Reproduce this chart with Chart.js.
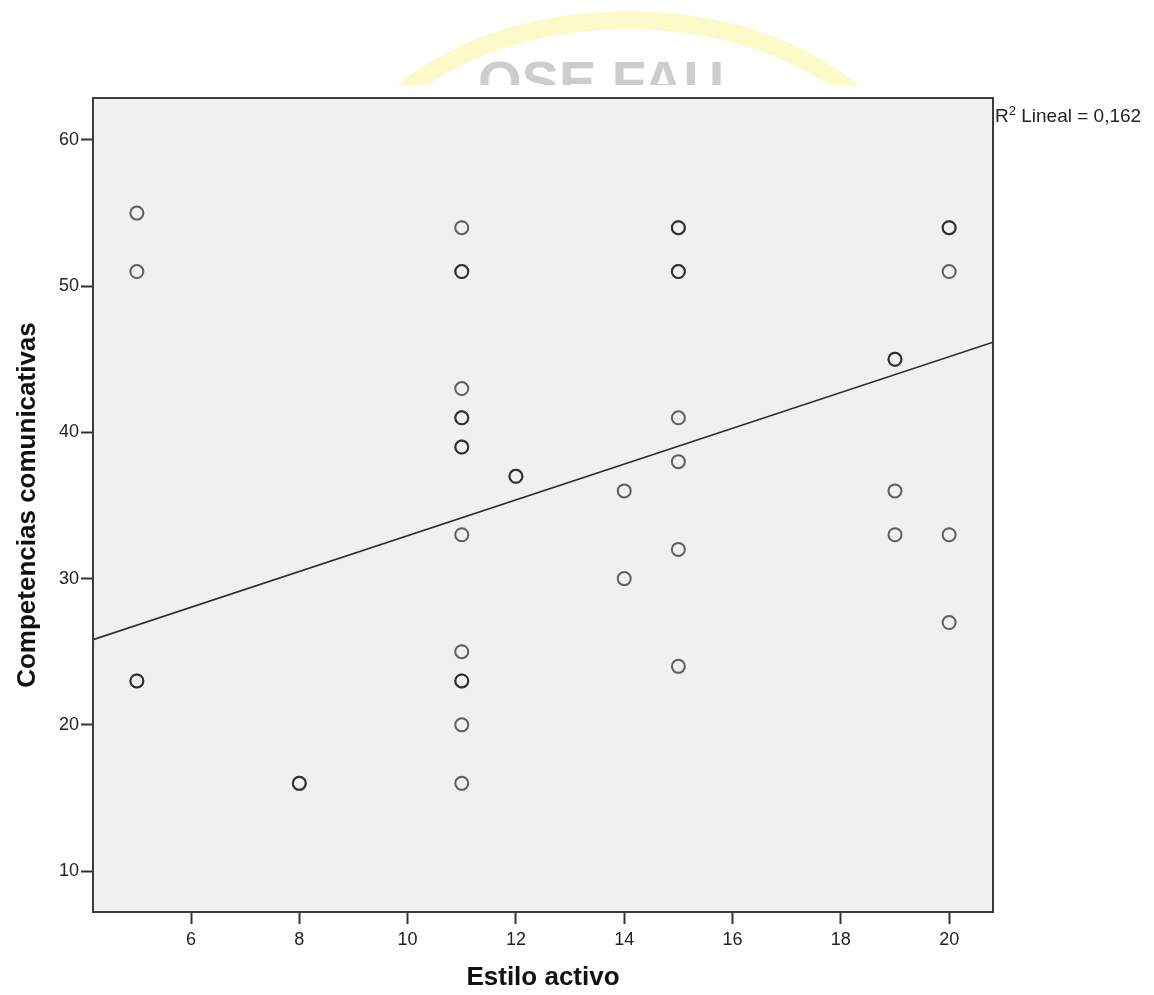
<!DOCTYPE html>
<html>
<head>
<meta charset="utf-8">
<script src="https://cdn.jsdelivr.net/npm/chart.js@4.4.0/dist/chart.umd.min.js"></script>
<style>
  html, body { margin: 0; padding: 0; background: #fff; }
  canvas { display: block; }
</style>
</head>
<body>
<canvas id="chart" width="1154" height="995"></canvas>
<script>
// Estilo activo (x) vs Competencias comunicativas (y); repeated pairs are listed once per case
const estiloActivo = [
  5, 5, 5, 5,
  8, 8,
  11, 11, 11, 11, 11, 11, 11, 11, 11, 11, 11, 11, 11, 11,
  12, 12,
  14, 14,
  15, 15, 15, 15, 15, 15, 15, 15,
  19, 19, 19, 19,
  20, 20, 20, 20, 20
];
const competencias = [
  55, 51, 23, 23,
  16, 16,
  54, 51, 51, 43, 41, 41, 39, 39, 33, 25, 23, 23, 20, 16,
  37, 37,
  36, 30,
  54, 54, 51, 51, 41, 38, 32, 24,
  45, 45, 36, 33,
  54, 54, 51, 33, 27
];

// axis ticks and ranges
const xTicks = [6, 8, 10, 12, 14, 16, 18, 20];
const yTicks = [10, 20, 30, 40, 50, 60];
const xRange = [4.19, 20.81];
const yRange = [7.2, 62.87];

// linear fit
const fitIntercept = 20.70;
const fitSlope = 1.224;
const rSquaredText = '0,162';

const xTitle = 'Estilo activo';
const yTitle = 'Competencias comunicativas';
const watermarkText = 'OSE FAU';

const FONT = "'Liberation Sans', Arial, sans-serif";

const points = estiloActivo.map((x, i) => ({ x: x, y: competencias[i] }));
const fitLine = xRange.map(x => ({ x: x, y: fitIntercept + fitSlope * x }));

const decorPlugin = {
  id: 'decor',
  beforeDraw(chart) {
    const ctx = chart.ctx;
    const a = chart.chartArea;
    ctx.save();
    // faint watermark above the frame
    ctx.beginPath();
    ctx.rect(0, 0, chart.width, 85);
    ctx.clip();
    ctx.strokeStyle = 'rgba(252, 246, 165, 0.6)';
    ctx.lineWidth = 18;
    ctx.beginPath();
    ctx.ellipse(628, 215, 290, 195, 0, Math.PI * 1.06, Math.PI * 1.94);
    ctx.stroke();
    ctx.fillStyle = '#cdcdcd';
    ctx.font = 'bold 56px ' + FONT;
    ctx.textBaseline = 'alphabetic';
    ctx.textAlign = 'left';
    ctx.fillText(watermarkText, 478, 100);
    ctx.restore();

    // plot background
    ctx.save();
    ctx.fillStyle = '#f0f0f0';
    ctx.fillRect(a.left, a.top, a.right - a.left, a.bottom - a.top);
    ctx.restore();
  },
  afterDraw(chart) {
    const ctx = chart.ctx;
    const a = chart.chartArea;
    ctx.save();
    // frame
    ctx.strokeStyle = '#3c3c3c';
    ctx.lineWidth = 2;
    ctx.strokeRect(a.left, a.top, a.right - a.left, a.bottom - a.top);

    // axis titles
    ctx.fillStyle = '#111';
    ctx.font = 'bold 26px ' + FONT;
    ctx.textAlign = 'center';
    ctx.textBaseline = 'middle';
    ctx.fillText(xTitle, (a.left + a.right) / 2, 978);
    ctx.translate(28, (a.top + a.bottom) / 2);
    ctx.rotate(-Math.PI / 2);
    ctx.fillText(yTitle, 0, 0);
    ctx.restore();

    // fit annotation
    ctx.save();
    ctx.fillStyle = '#222';
    ctx.textAlign = 'left';
    ctx.textBaseline = 'alphabetic';
    let x = a.right + 2;
    const base = 122;
    ctx.font = '19px ' + FONT;
    ctx.fillText('R', x, base);
    x += ctx.measureText('R').width;
    ctx.font = '13px ' + FONT;
    ctx.fillText('2', x, base - 7);
    x += ctx.measureText('2').width;
    ctx.font = '19px ' + FONT;
    ctx.fillText(' Lineal = ' + rSquaredText, x, base);
    ctx.restore();
  }
};

const tickFont = { family: FONT, size: 18 };

new Chart(document.getElementById('chart'), {
  type: 'scatter',
  data: {
    datasets: [
      {
        type: 'line',
        data: fitLine,
        borderColor: '#2b2b2b',
        borderWidth: 1.6,
        pointRadius: 0,
        fill: false,
        order: 2
      },
      {
        data: points,
        pointRadius: 6.5,
        pointBorderWidth: 2,
        borderColor: 'rgba(25, 25, 25, 0.68)',
        pointBorderColor: 'rgba(25, 25, 25, 0.68)',
        backgroundColor: 'rgba(0,0,0,0)',
        pointBackgroundColor: 'rgba(0,0,0,0)',
        order: 1
      }
    ]
  },
  options: {
    responsive: false,
    animation: false,
    devicePixelRatio: 1,
    layout: { padding: { left: 0, top: 98, right: 161, bottom: 0 } },
    plugins: {
      legend: { display: false },
      tooltip: { enabled: false }
    },
    scales: {
      x: {
        type: 'linear',
        min: xRange[0],
        max: xRange[1],
        afterBuildTicks: s => { s.ticks = xTicks.map(v => ({ value: v })); },
        afterFit: s => { s.height = 83; },
        border: { display: false },
        grid: {
          drawOnChartArea: false,
          drawTicks: true,
          tickLength: 12,
          tickWidth: 2,
          tickColor: '#333'
        },
        ticks: {
          font: tickFont,
          color: '#222',
          padding: 5,
          maxRotation: 0,
          autoSkip: false
        }
      },
      y: {
        type: 'linear',
        min: yRange[0],
        max: yRange[1],
        afterBuildTicks: s => { s.ticks = yTicks.map(v => ({ value: v })); },
        afterFit: s => { s.width = 93; },
        border: { display: false },
        grid: {
          drawOnChartArea: false,
          drawTicks: true,
          tickLength: 12,
          tickWidth: 2,
          tickColor: '#333'
        },
        ticks: {
          font: tickFont,
          color: '#222',
          padding: 2,
          autoSkip: false
        }
      }
    }
  },
  plugins: [decorPlugin]
});
</script>
</body>
</html>
